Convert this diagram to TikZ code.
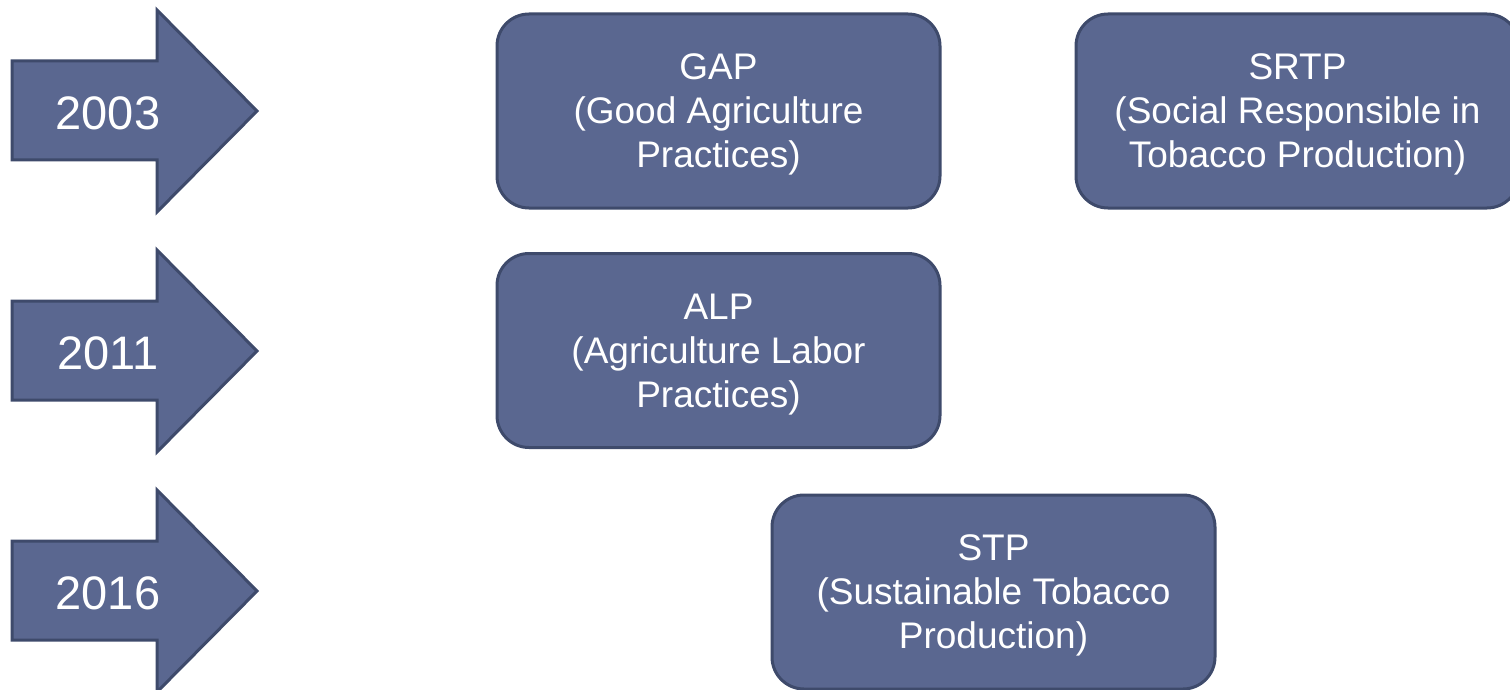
\documentclass[tikz,border=0pt]{standalone}
\usepackage{fontspec}
\setmainfont{Liberation Sans}
\definecolor{boxfill}{HTML}{5A6790}
\definecolor{boxline}{HTML}{3E4A6B}

\begin{document}
\begin{tikzpicture}
[x=1pt,y=-1pt,line width=3pt,every node/.style={text=white,align=center},
stdbox/.style={draw=boxline,fill=boxfill,rounded corners=32pt,minimum width=443pt,minimum height=194pt,text depth=-2pt,font=\fontsize{37}{44}\selectfont},
year/.style={font=\fontsize{47}{56}\selectfont}]
\useasboundingbox (0,0) rectangle (1510,690);
\foreach \y/\yr/\nm in {0/2003/y1,240/2011/y2,480/2016/y3}
{
\draw[draw=boxline,fill=boxfill,line join=miter] (12,61+\y) -- (157,61+\y) -- (157,10+\y) -- (257,111+\y) -- (157,212+\y) -- (157,160+\y) -- (12,160+\y) -- cycle;
\node[year] (\nm) at (108,113+\y) {\yr};
}
\node[stdbox] (gap) at (718.5,111) {GAP\\(Good Agriculture\\Practices)};
\node[stdbox] (srtp) at (1297.5,111) {SRTP\\(Social Responsible in\\Tobacco Production)};
\node[stdbox] (alp) at (718.5,350.5) {ALP\\(Agriculture Labor\\Practices)};
\node[stdbox] (stp) at (993.5,592) {STP\\(Sustainable Tobacco\\Production)};
\end{tikzpicture}
\end{document}
